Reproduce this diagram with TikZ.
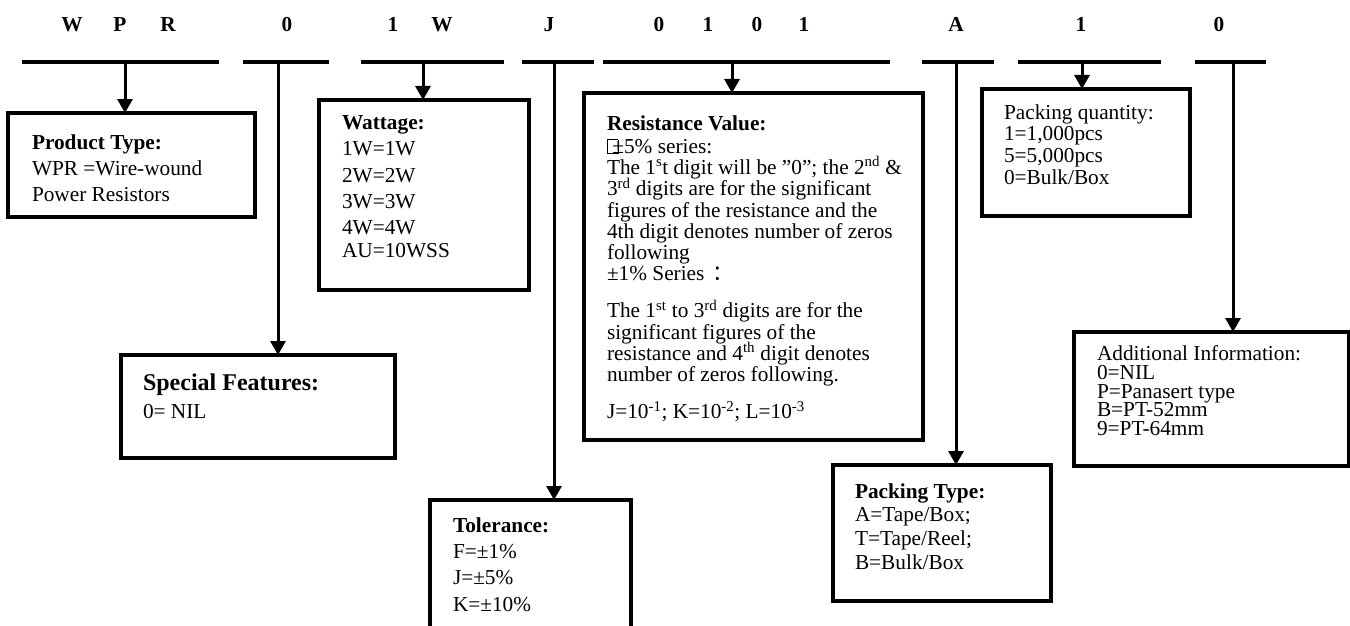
\documentclass[tikz,border=0pt]{standalone}
\usepackage{fontspec}
\setmainfont{Liberation Serif}
\newfontfamily\cjk{Noto Sans CJK SC}
\usetikzlibrary{arrows.meta}
\newcommand\sups[1]{\smash{\textsuperscript{#1}}}
\newcommand\bodyfont[1]{\lineskiplimit=-100pt\fontsize{21.3}{#1}\selectfont}
\newcommand\pmbox{{\setlength\fboxsep{0pt}\setlength\fboxrule{0.7pt}\fbox{\rule{0pt}{13pt}\hspace{10pt}}}\kern-6pt±}
\begin{document}
\begin{tikzpicture}[x=1pt,y=-1pt,
  box/.style={draw, line width=3.5pt, rectangle, anchor=north west, inner sep=0pt, outer sep=0pt},
  txt/.style={anchor=north west, inner sep=0pt, outer sep=0pt, align=left},
  code/.style={anchor=base, inner sep=0pt, font=\fontsize{21.3}{24}\selectfont\bfseries},
  seg/.style={line width=4.5pt},
  conn/.style={line width=3pt, -{Triangle[width=15pt,length=14pt]}}]
\useasboundingbox (0,0) rectangle (1350,626);
\clip (0,0) rectangle (1350,626);

% code letters
\node[code] (l1) at (72,32) {W};
\node[code] (l2) at (120,32) {P};
\node[code] (l3) at (168,32) {R};
\node[code] (l4) at (287,32) {0};
\node[code] (l5) at (393,32) {1};
\node[code] (l6) at (442,32) {W};
\node[code] (l7) at (549,32) {J};
\node[code] (l8) at (659,32) {0};
\node[code] (l9) at (708,32) {1};
\node[code] (l10) at (757,32) {0};
\node[code] (l11) at (804,32) {1};
\node[code] (l12) at (956,32) {A};
\node[code] (l13) at (1081,32) {1};
\node[code] (l14) at (1219,32) {0};

% segments
\coordinate (s1l) at (22,62);   \coordinate (s1r) at (219,62);
\coordinate (s2l) at (243,62);  \coordinate (s2r) at (329,62);
\coordinate (s3l) at (361,62);  \coordinate (s3r) at (504,62);
\coordinate (s4l) at (522,62);  \coordinate (s4r) at (594,62);
\coordinate (s5l) at (603,62);  \coordinate (s5r) at (890,62);
\coordinate (s6l) at (922,62);  \coordinate (s6r) at (994,62);
\coordinate (s7l) at (1018,62); \coordinate (s7r) at (1161,62);
\coordinate (s8l) at (1195,62); \coordinate (s8r) at (1266,62);
\foreach \i in {1,...,8} { \draw[seg] (s\i l) -- (s\i r); }

% connector origins
\coordinate (c1) at (125,62);
\coordinate (c2) at (278,62);
\coordinate (c3) at (423,62);
\coordinate (c4) at (554,62);
\coordinate (c5) at (732,62);
\coordinate (c6) at (956,62);
\coordinate (c7) at (1082,62);
\coordinate (c8) at (1233,62);

% boxes
\node[box, minimum width=247pt, minimum height=104pt] (ptype) at (8,113) {};
\node[box, minimum width=274pt, minimum height=103pt] (special) at (121,355) {};
\node[box, minimum width=210pt, minimum height=190pt] (watt) at (319,100) {};
\node[box, minimum width=201pt, minimum height=140pt] (tol) at (430,500) {};
\node[box, minimum width=339pt, minimum height=347pt] (resist) at (584,93) {};
\node[box, minimum width=208pt, minimum height=127pt] (pqty) at (982,89) {};
\node[box, minimum width=218pt, minimum height=136pt] (packtype) at (833,465) {};
\node[box, minimum width=275pt, minimum height=134pt] (addl) at (1074,332) {};

% connectors
\draw[conn] (c1) -- (c1 |- ptype.north);
\draw[conn] (c2) -- (c2 |- special.north);
\draw[conn] (c3) -- (c3 |- watt.north);
\draw[conn] (c4) -- (c4 |- tol.north);
\draw[conn] (c5) -- (c5 |- resist.north);
\draw[conn] (c6) -- (c6 |- packtype.north);
\draw[conn] (c7) -- (c7 |- pqty.north);
\draw[conn] (c8) -- (c8 |- addl.north);

% texts
\node[txt, font=\bodyfont{26}] (ptypeT) at (32,134.5)
  {\textbf{Product Type:}\\ WPR =Wire-wound\\ Power Resistors};
\node[txt, font=\bodyfont{27.5}] (specialT) at (143,374)
  {{\fontsize{24}{27}\selectfont\bfseries Special Features:}\\ 0= NIL};
\node[txt, font=\bodyfont{26.3}] (wattT) at (342,115.5)
  {\textbf{Wattage:}\\ 1W=1W\\ 2W=2W\\ 3W=3W\\ 4W=4W\\[-3pt] AU=10WSS};
\node[txt, font=\bodyfont{26.3}] (tolT) at (453,517.5)
  {\textbf{Tolerance:}\\ F=±1\%\\ J=±5\%\\ K=±10\%};
\node[txt, font=\bodyfont{21.3}] (resistT) at (607,115.5)
  {\textbf{Resistance Value:}\\[1.6pt]
   \pmbox5\% series:\\
   The 1\sups{s}t digit will be ”0”; the 2\sups{nd} \&\\
   3\sups{rd} digits are for the significant\\
   figures of the resistance and the\\
   4th digit denotes number of zeros\\
   following\\
   ±1\% Series\hspace{8pt}{\cjk ：}\\[15.6pt]
   The 1\sups{st} to 3\sups{rd} digits are for the\\
   significant figures of the\\
   resistance and 4\sups{th} digit denotes\\
   number of zeros following.\\[15.6pt]
   J=10\sups{-1}; K=10\sups{-2}; L=10\sups{-3}};
\node[txt, font=\bodyfont{21.7}] (pqtyT) at (1004,104.5)
  {Packing quantity:\\ 1=1,000pcs\\ 5=5,000pcs\\ 0=Bulk/Box};
\node[txt, font=\bodyfont{23.7}] (packtypeT) at (855,483.5)
  {\textbf{Packing Type:}\\ A=Tape/Box;\\ T=Tape/Reel;\\ B=Bulk/Box};
\node[txt, font=\bodyfont{18.75}] (addlT) at (1097,345.5)
  {Additional Information:\\ 0=NIL\\ P=Panasert type\\ B=PT-52mm\\ 9=PT-64mm};
\end{tikzpicture}
\end{document}
